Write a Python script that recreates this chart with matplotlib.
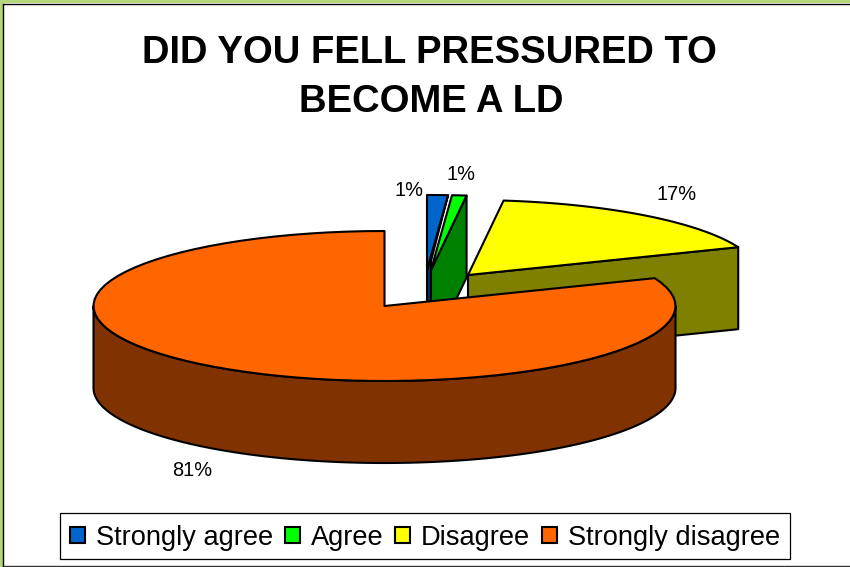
import numpy as np
import matplotlib
matplotlib.use('Agg')
import matplotlib.pyplot as plt
from matplotlib.patches import Polygon, Patch, Rectangle

categories = ['Strongly agree', 'Agree', 'Disagree', 'Strongly disagree']
percents = [1.15, 0.8, 17.0, 81.05]

colors = ['#0066CC', '#00FF00', '#FFFF00', '#FF6600']
dark_colors = ['#003366', '#008000', '#808000', '#803300']
# where the point of each slice ends up (exploded pie), in pixels
apex = [(427, 270), (431, 270), (468, 275), (384.5, 306)]
label_pos = [(409, 190), (461, 175), (677, 195), (192, 471)]

RX, RY, DEPTH = 291, 75, 82
LW = 1.5

plt.rcParams['font.family'] = ['Liberation Sans', 'DejaVu Sans']

fig = plt.figure(figsize=(8.5, 5.67), dpi=100, facecolor='white')
ax = fig.add_axes([0, 0, 1, 1])
ax.set_xlim(0, 850)
ax.set_ylim(567, 0)
ax.axis('off')

# frame of the slide
ax.add_patch(Rectangle((0, 0), 850, 3, fc='#B5D77A', ec='none'))
ax.add_patch(Rectangle((0, 0), 3, 567, fc='#B5D77A', ec='none'))
ax.plot([3.5, 850], [3.5, 3.5], color='black', lw=1)
ax.plot([3.5, 3.5], [3.5, 566], color='black', lw=1)
ax.plot([3.5, 850], [566, 566], color='#333333', lw=1)


def rim(a_deg, p):
    # a_deg is clockwise from twelve o'clock
    a = np.radians(a_deg)
    return np.column_stack([p[0] + RX * np.sin(a), p[1] - RY * np.cos(a)])


def poly(pts, fc, z):
    ax.add_patch(Polygon(pts, closed=True, fc=fc, ec='black', lw=LW,
                         joinstyle='round', zorder=z))


edges = np.concatenate([[0], np.cumsum(percents)]) * 3.6
down = np.array([0, DEPTH])
z = 2
for i in range(4):
    p = np.array(apex[i], dtype=float)
    arc = rim(np.linspace(edges[i], edges[i + 1], 80), p)
    r = arc[-1]
    if i == 0:
        # only a thin strip of the side shows next to the green slice
        side = [r, p, p + down, p + down + [4, 0], p + [4, -9]]
        poly(side, dark_colors[i], z)
    elif i == 1:
        # cut face below the right edge
        poly([r, r + down, p + down, p], dark_colors[i], z)
    elif i == 2:
        # cut face below the chord
        poly([p, r, r + down, p + down], dark_colors[i], z)
    else:
        # outer wall of the big slice, front half only
        front = rim(np.linspace(90, 270, 160), p)
        poly(np.vstack([front, (front + down)[::-1]]), dark_colors[i], z)
    poly(np.vstack([[p], arc]), colors[i], z + 1)
    z += 2

for pos, v in zip(label_pos, percents):
    ax.text(pos[0], pos[1], f'{round(v)}%', fontsize=14.4, ha='center',
            va='center', color='black', zorder=20)

ax.text(429, 53, 'DID YOU FELL PRESSURED TO', fontsize=27.5, fontweight='bold',
        ha='center', va='center')
ax.text(431, 102, 'BECOME A LD', fontsize=27.5, fontweight='bold',
        ha='center', va='center')

handles = [Patch(fc=c, ec='black', lw=LW) for c in colors]
leg = ax.legend(handles, categories, ncol=4, loc='center',
                bbox_to_anchor=(425 / 850, 1 - 536 / 567),
                fontsize=19.6, frameon=True, fancybox=False, framealpha=1,
                edgecolor='black', handlelength=0.55, handleheight=0.55,
                handletextpad=0.4, columnspacing=0.44, borderpad=0.36,
                borderaxespad=0)
leg.get_frame().set_linewidth(0.9)
# text and keys sit a little lower in the box
for t in leg.get_texts():
    t.set_y(-2)
for h in leg.get_patches():
    h.set_y(h.get_y() - 1)

fig.savefig('out.png', dpi=100)
